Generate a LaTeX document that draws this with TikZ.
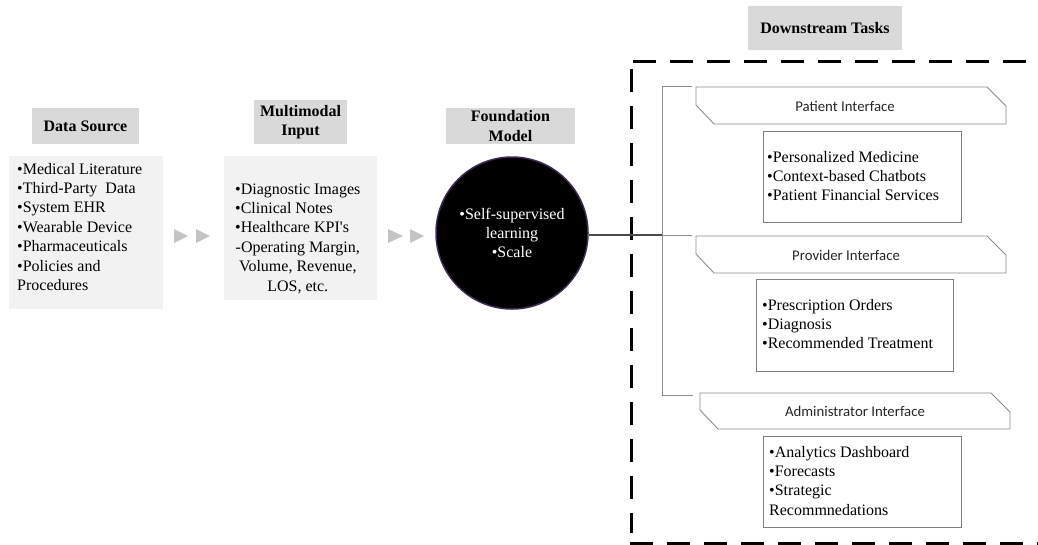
\documentclass[tikz,border=0pt]{standalone}
\usepackage{fontspec}
\setmainfont{Liberation Serif}
\newfontfamily\uisans{Carlito}
\definecolor{hdrgray}{HTML}{D9D9D9}
\definecolor{bodygray}{HTML}{F2F2F2}
\definecolor{arrgray}{HTML}{C4C4C4}
\definecolor{circborder}{HTML}{3D2B56}
\definecolor{boxgray}{HTML}{7F7F7F}
\definecolor{linegray}{HTML}{8C8C8C}
\definecolor{conngray}{HTML}{4A4A4A}
\newcommand\bodyfont{\rmfamily\fontsize{16}{19.4}\selectfont}
\newcommand\ifacefont{\uisans\fontsize{14.8}{17}\selectfont}
\newcommand\lines[1]{\begin{tabular}[t]{@{}l@{}}#1\end{tabular}}
\begin{document}
\begin{tikzpicture}[x=1pt,y=-1pt,
  hdr/.style={fill=hdrgray, inner sep=0pt, font=\bodyfont\bfseries, align=center},
  bodybox/.style={fill=bodygray, inner sep=0pt},
  txt/.style={inner sep=0pt, anchor=base west, font=\bodyfont},
  cbox/.style={draw=boxgray, line width=0.9pt, inner sep=0pt},
  ifline/.style={draw=linegray, line width=0.9pt},
  iflabel/.style={inner sep=0pt, font=\ifacefont, text=black!85},
  brk/.style={draw=linegray, line width=0.9pt},
  conn/.style={draw=conngray, line width=1.5pt},
  dashbox/.style={draw=black, line width=3pt, dash pattern=on 23pt off 14pt},
  tri/.style={fill=arrgray}]
\useasboundingbox (0,0) rectangle (1038,544);

% ---- Data Source ----
\node[hdr, minimum width=107, minimum height=36] (dshdr) at (85.5,126) {Data Source};
\node[bodybox, minimum width=154, minimum height=153] (dsbody) at (86,232.5) {};
\node[txt] (dstext) at (17,174) {\lines{%
  •Medical Literature\\
  •Third-Party~ Data\\
  •System EHR\\
  •Wearable Device\\
  •Pharmaceuticals\\
  •Policies and\\
  Procedures}};

% ---- arrows 1 ----
\fill[tri] (174,229) -- (188,236) -- (174,243) -- cycle;
\fill[tri] (196,229) -- (210,236) -- (196,243) -- cycle;

% ---- Multimodal Input ----
\node[hdr, minimum width=93, minimum height=44] (mmhdr) at (300.5,122) {Multimodal\\Input};
\node[bodybox, minimum width=153, minimum height=144] (mmbody) at (300.5,228) {};
\node[txt] (mmtext) at (235,194) {\lines{%
  •Diagnostic Images\\
  •Clinical Notes\\
  •Healthcare KPI\textquotesingle s\\
  \multicolumn{1}{@{}c@{}}{-Operating Margin,}\\
  \multicolumn{1}{@{}c@{}}{Volume, Revenue,}\\
  \multicolumn{1}{@{}c@{}}{LOS, etc.}}};

% ---- arrows 2 ----
\fill[tri] (388,229) -- (403,236) -- (388,243) -- cycle;
\fill[tri] (410,229) -- (424,236) -- (410,243) -- cycle;

% ---- Foundation Model ----
\node[hdr, minimum width=129, minimum height=36] (fmhdr) at (510.5,126) {Foundation\\Model};
\node[circle, fill=black, draw=circborder, line width=1.5pt, minimum size=152, inner sep=0pt,
      text=white, font=\bodyfont, align=center] (fm) at (512,233) {•Self-supervised\\learning\\•Scale};

% ---- Downstream Tasks ----
\node[hdr, minimum width=154, minimum height=44] (dthdr) at (825,28) {Downstream Tasks};
\draw[dashbox] (633,61) -- (1040,61);
\draw[dashbox] (631,69) -- (631,533);
\draw[dashbox] (630,543) -- (1040,543);

% ---- bracket and connector ----
\coordinate (brtop) at (662,86);
\coordinate (brmid) at (662,235);
\coordinate (brbot) at (662,395);
\coordinate (pstub) at (692,86);
\coordinate (vstub) at (692,235);
\coordinate (astub) at (693,395);
\draw[conn] (fm.east |- brmid) -- (brmid);
\draw[brk] (pstub) -- (brtop) -- (brbot) -- (astub);
\draw[brk] (brmid) -- (vstub);

% ---- interface shapes ----
\newcommand\ifshape[7]{%
  \draw[ifline] (#2,#3) -- ({#4-19},#3) -- (#4,{#3+19}) -- (#4,#5) -- ({#2+18},#5) -- (#2,{#5-19}) -- cycle;
  \node[iflabel] (#1) at (#7,{(#3+#5)/2+0.5}) {#6};}
\ifshape{pif}{696}{87}{1006}{124}{Patient Interface}{845}
\ifshape{vif}{696}{236}{1006}{273}{Provider Interface}{846}
\ifshape{aif}{700}{393}{1010}{429}{Administrator Interface}{855}

% ---- content boxes ----
\node[cbox, minimum width=198, minimum height=91] (pbox) at (862,176.5) {};
\node[txt] (ptext) at (767,162) {\lines{%
  •Personalized Medicine\\
  •Context-based Chatbots\\
  •Patient Financial Services}};
\node[cbox, minimum width=197, minimum height=92] (vbox) at (854.5,325) {};
\node[txt] (vtext) at (762,310) {\lines{%
  •Prescription Orders\\
  •Diagnosis\\
  •Recommended Treatment}};
\node[cbox, minimum width=198, minimum height=91] (abox) at (862,481.5) {};
\node[txt] (atext) at (769,457) {\lines{%
  •Analytics Dashboard\\
  •Forecasts\\
  •Strategic\\
  Recommnedations}};
\end{tikzpicture}
\end{document}
